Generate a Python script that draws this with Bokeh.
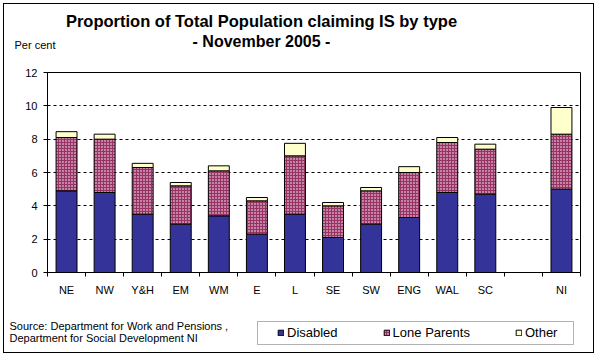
from bokeh.plotting import figure
from bokeh.models import (Range1d, FixedTicker, Label, Legend, LegendItem, ColumnDataSource, BoxAnnotation)
from bokeh.transform import stack
from bokeh.layouts import column
from bokeh.embed import file_html
from bokeh.resources import INLINE

# ---- data ----
categories = ["NE", "NW", "Y&H", "EM", "WM", "E", "L", "SE", "SW", "ENG", "WAL", "SC", "", "NI"]
disabled = [4.9, 4.8, 3.5, 2.9, 3.4, 2.3, 3.5, 2.1, 2.9, 3.3, 4.8, 4.7, None, 5.0]
lone_parents = [3.2, 3.2, 2.8, 2.3, 2.7, 2.0, 3.5, 1.9, 2.0, 2.7, 3.0, 2.7, None, 3.3]
other = [0.35, 0.3, 0.25, 0.2, 0.3, 0.2, 0.75, 0.2, 0.2, 0.35, 0.3, 0.3, None, 1.6]
series = ["Disabled", "Lone Parents", "Other"]
y_ticks = [0, 2, 4, 6, 8, 10, 12]

idx = [i for i, c in enumerate(categories) if c]
src = ColumnDataSource(dict(
    x=[i + 0.5 for i in idx],
    Disabled=[disabled[i] for i in idx],
    Lone=[lone_parents[i] for i in idx],
    Other=[other[i] for i in idx],
))

FONT = "Liberation Sans"
OFF = 4                              # canvas offset inside the CSS border box
W = 589
SPLIT = 300                          # picture y where the footer figure starts
FL, FR, FT, FB = 47, 580, 72, 272    # frame edges in picture coords
H1 = SPLIT - OFF
H2 = 352 - SPLIT

p = figure(width=W, height=H1, output_backend="svg", toolbar_location=None,
           x_range=Range1d(0, len(categories)), y_range=Range1d(0, 12),
           min_border_left=FL - OFF, min_border_right=W + OFF - FR,
           min_border_top=FT - OFF, min_border_bottom=SPLIT - FB,
           background_fill_color="white", border_fill_color="white")
p.outline_line_color = "black"
p.outline_line_width = 1

# axes
p.yaxis.ticker = FixedTicker(ticks=y_ticks)
p.yaxis.major_tick_out = 4
p.yaxis.major_tick_in = 0
p.yaxis.minor_tick_out = 0
p.yaxis.minor_tick_in = 0
p.yaxis.major_label_standoff = 6
p.yaxis.axis_line_color = "black"
p.yaxis.major_tick_line_color = "black"

centers = [i + 0.5 for i in range(len(categories))]
p.xaxis.ticker = FixedTicker(ticks=centers, minor_ticks=list(range(len(categories) + 1)))
p.xaxis.major_label_overrides = {c: lab for c, lab in zip(centers, categories)}
p.xaxis.major_tick_out = 0
p.xaxis.major_tick_in = 0
p.xaxis.minor_tick_out = 4
p.xaxis.minor_tick_in = 0
p.xaxis.minor_tick_line_color = "black"
p.xaxis.major_label_standoff = 7
p.xaxis.axis_line_color = "black"

for ax in (p.xaxis, p.yaxis):
    ax.major_label_text_font = FONT
    ax.major_label_text_font_size = "11px"
    ax.major_label_text_color = "black"

p.xgrid.grid_line_color = None
p.ygrid.ticker = FixedTicker(ticks=y_ticks)
p.ygrid.grid_line_color = "black"
p.ygrid.grid_line_dash = "3 3"
p.ygrid.grid_line_width = 1

# bars
bw = 0.55
STYLE = [dict(fill_color="#333399"),
         dict(fill_color="#993366", hatch_pattern="dot", hatch_color="white", hatch_scale=3, hatch_weight=1),
         dict(fill_color="#FFFFCC")]
p.vbar(x="x", bottom=0, top=stack("Disabled"), width=bw, source=src,
       line_color="black", line_width=1, **STYLE[0])
p.vbar(x="x", bottom=stack("Disabled"), top=stack("Disabled", "Lone"), width=bw, source=src,
       line_color="black", line_width=1, **STYLE[1])
p.vbar(x="x", bottom=stack("Disabled", "Lone"), top=stack("Disabled", "Lone", "Other"), width=bw,
       source=src, line_color="black", line_width=1, **STYLE[2])

def lab(text, x, y, size, bold=False, align="left", units="screen"):
    return Label(x=x, y=y, x_units=units, y_units=units, text=text,
                 text_font=FONT, text_font_size=size,
                 text_font_style="bold" if bold else "normal",
                 text_align=align, text_baseline="middle", text_color="black")

# ---- header (above panel; first item sits on the frame) ----
H16 = 19
p.add_layout(lab("- November 2005 -", 261 - FL, FT - 41, "16px", True, "center"), "above")
p.add_layout(lab("Proportion of Total Population claiming IS by type", 261 - FL, (FT - H16) - 18,
                 "16.5px", True, "center"), "above")
p.add_layout(lab("Per cent", 14 - FL, (FT - 2 * H16) - 41, "11px"), "above")

# ---- footer figure: its frame is its whole canvas, in picture coordinates ----
f = figure(width=W, height=H2, output_backend="svg", toolbar_location=None,
           x_range=Range1d(OFF, OFF + W), y_range=Range1d(352, SPLIT),
           x_axis_location=None, y_axis_location=None,
           min_border_left=0, min_border_right=0, min_border_top=0, min_border_bottom=0,
           background_fill_color="white", border_fill_color="white")
f.grid.visible = False
f.outline_line_color = None

for fig in (p, f):
    if "frame_align" in fig.properties():
        fig.frame_align = False

# legend swatches take the bar styles (renderers with no visible data)
nan = float("nan")
swatches = [f.vbar(x=[nan], top=[nan], width=1, line_color="black", line_width=1, **s) for s in STYLE]
f.add_layout(BoxAnnotation(left=257, right=573, top=321, bottom=344, fill_alpha=0,
                           line_color="black", line_width=1))
legend = Legend(items=[LegendItem(label=s, renderers=[r]) for s, r in zip(series, swatches)],
                orientation="horizontal", location=(277 - OFF, 352 - 340),
                glyph_width=7, glyph_height=7, label_standoff=3, spacing=45, label_width=44,
                padding=0, margin=0, label_height=12,
                label_text_font=FONT, label_text_font_size="13px", label_text_color="black",
                border_line_alpha=0, background_fill_alpha=0)
f.add_layout(legend, "center")
f.add_layout(lab("Source: Department for Work and Pensions ,", 9, 325, "11px", units="data"))
f.add_layout(lab("Department for Social Development NI", 9, 337, "11px", units="data"))

page = column(p, f, spacing=0)
page.styles = {"border": "1px solid black", "margin": "3px"}

open("out.html", "w").write(file_html(page, INLINE))
